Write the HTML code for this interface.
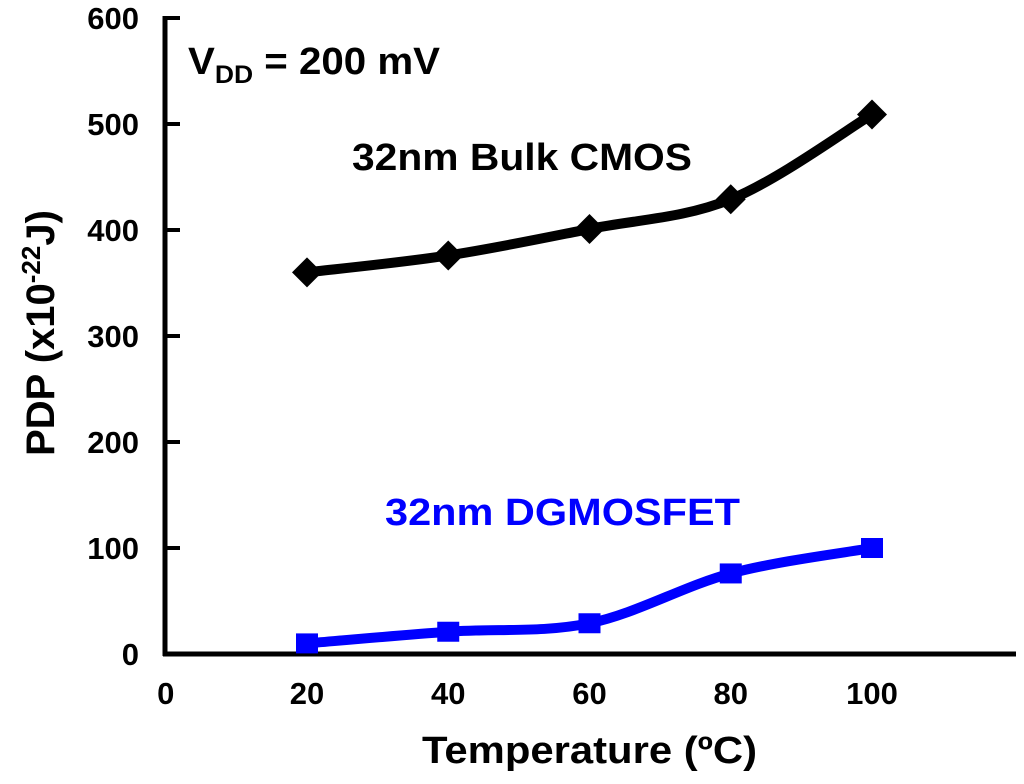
<!DOCTYPE html>
<html><head><meta charset="utf-8"><style>
body{margin:0;background:#fff;width:1024px;height:779px;overflow:hidden}
svg text{font-family:"Liberation Sans",sans-serif;font-weight:bold}
</style></head><body>
<svg id="chart" width="1024" height="779">
<g id="axes"></g><g id="series"></g>
<text x="188" y="74" font-size="38" textLength="252" lengthAdjust="spacingAndGlyphs">V<tspan font-size="25" dy="9">DD</tspan><tspan dy="-9"> = 200 mV</tspan></text>
<text x="352" y="170" font-size="38" fill="#000" textLength="340" lengthAdjust="spacingAndGlyphs">32nm Bulk CMOS</text>
<text x="385" y="525" font-size="38" fill="#0000ff" textLength="355" lengthAdjust="spacingAndGlyphs">32nm DGMOSFET</text>
<text x="422" y="763" font-size="38" textLength="335" lengthAdjust="spacingAndGlyphs">Temperature (ºC)</text>
<text transform="translate(54,333) rotate(-90)" font-size="40" text-anchor="middle">PDP (x10<tspan font-size="26" dy="-14">-22</tspan><tspan dy="14">J)</tspan></text>
</svg>
<script>
const xTicks=[0,20,40,60,80,100];
const yTicks=[0,100,200,300,400,500,600];
const temps=[20,40,60,80,100];
const bulkCmos=[360,376,401,429,509];
const dgmosfet=[10,21,29,76,100];
const X=v=>165.75+v*7.0625;
const Y=v=>654-v*1.06;
const ns="http://www.w3.org/2000/svg";
function mk(p,t,a){const e=document.createElementNS(ns,t);for(const k in a)e.setAttribute(k,a[k]);p.appendChild(e);return e;}
const ax=document.getElementById('axes'),se=document.getElementById('series');
let yl=mk(ax,'line',{x1:165,y1:Y(600)-2,x2:165,y2:656,stroke:'#000','stroke-width':5});


let xl=mk(ax,'line',{x1:163,y1:654,x2:1016,y2:654,stroke:'#000','stroke-width':5});


yTicks.forEach(v=>{
  if(v>0){let t=mk(ax,'line',{x1:165,y1:Y(v),x2:180,y2:Y(v),stroke:'#000','stroke-width':4});
  
  }
  let l=mk(ax,'text',{x:139,y:Y(v)+11,'font-size':31,'text-anchor':'end'});l.textContent=v;
  
  
});
xTicks.forEach(v=>{
  let l=mk(ax,'text',{x:X(v),y:704,'font-size':31,'text-anchor':'middle'});l.textContent=v;
  
  
});
function smooth(pts){
  let d=`M${pts[0][0]},${pts[0][1]}`;
  for(let i=0;i<pts.length-1;i++){
    const p0=pts[Math.max(i-1,0)],p1=pts[i],p2=pts[i+1],p3=pts[Math.min(i+2,pts.length-1)];
    const c1=[p1[0]+(p2[0]-p0[0])/6,p1[1]+(p2[1]-p0[1])/6],c2=[p2[0]-(p3[0]-p1[0])/6,p2[1]-(p3[1]-p1[1])/6];
    d+=` C${c1} ${c2} ${p2}`;
  }
  return d;
}
function draw(vals,color,marker,name){
  const pts=temps.map((t,i)=>[X(t),Y(vals[i])]);
  let p=mk(se,'path',{d:smooth(pts),fill:'none',stroke:color,'stroke-width':10,'stroke-linejoin':'round'});
  
  
  pts.forEach(([x,y])=>{
    let m;
    if(marker==='diamond') m=mk(se,'polygon',{points:`${x},${y-15} ${x+15},${y} ${x},${y+15} ${x-15},${y}`,fill:color});
    else m=mk(se,'rect',{x:x-11,y:y-10,width:22,height:20,fill:color});
    
    
  });
}
draw(bulkCmos,'#000','diamond','bulk-cmos');
draw(dgmosfet,'#0000ff','square','dgmosfet');
</script>
</body></html>
